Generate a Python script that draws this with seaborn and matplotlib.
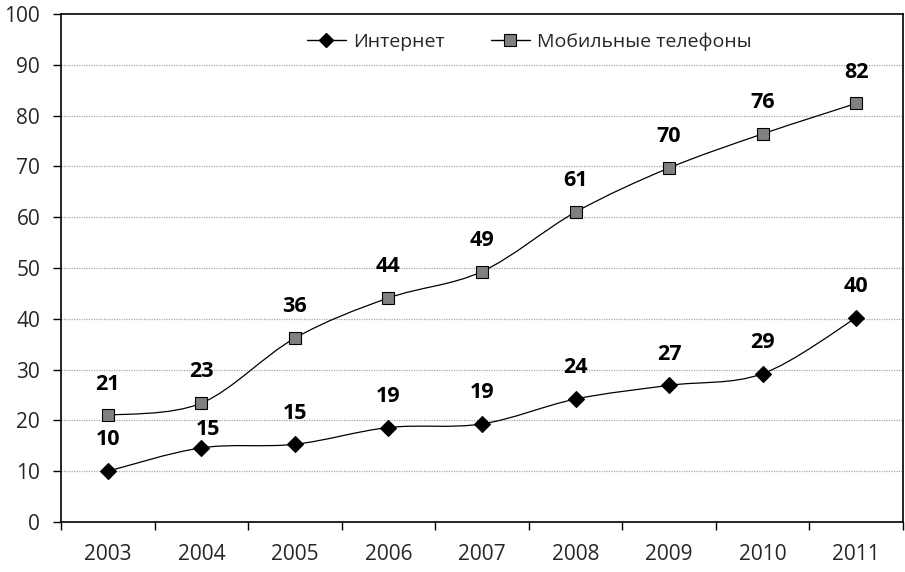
import numpy as np
import pandas as pd
import matplotlib
matplotlib.use("Agg")
import matplotlib.pyplot as plt
from matplotlib.path import Path
from matplotlib.patches import PathPatch
from matplotlib.lines import Line2D
from matplotlib.ticker import FixedLocator, NullFormatter, FixedFormatter
import seaborn as sns

years = ["2003", "2004", "2005", "2006", "2007", "2008", "2009", "2010", "2011"]
internet = [10.0, 14.6, 15.3, 18.6, 19.3, 24.2, 26.9, 29.2, 40.2]
mobile = [21.0, 23.4, 36.2, 44.1, 49.3, 61.0, 69.7, 76.4, 82.4]
internet_labels = ["10", "15", "15", "19", "19", "24", "27", "29", "40"]
mobile_labels = ["21", "23", "36", "44", "49", "61", "70", "76", "82"]
series_names = ["Интернет", "Мобильные телефоны"]
y_ticks = [0, 10, 20, 30, 40, 50, 60, 70, 80, 90, 100]

sns.set_theme(style="white")
plt.rcParams["font.family"] = ["Open Sans", "DejaVu Sans"]

fig = plt.figure(figsize=(9.05, 5.72), dpi=100)
ax = fig.add_axes([61 / 905, 50 / 572, 842 / 905, 508 / 572])

pos = np.arange(len(years))


def smooth_path(xs, ys):
    pts = np.column_stack([xs, ys]).astype(float)
    n = len(pts)
    verts = [pts[0]]
    codes = [Path.MOVETO]
    for i in range(n - 1):
        p0 = pts[i - 1] if i > 0 else pts[i]
        p1 = pts[i]
        p2 = pts[i + 1]
        p3 = pts[i + 2] if i + 2 < n else pts[i + 1]
        c1 = p1 + (p2 - p0) / 6.0
        c2 = p2 - (p3 - p1) / 6.0
        verts += [c1, c2, p2]
        codes += [Path.CURVE4] * 3
    return Path(verts, codes)


styles = [
    dict(values=internet, labels=internet_labels, marker="D", ms=8.5,
         mfc="black", special={1: (5, 13.5)}),
    dict(values=mobile, labels=mobile_labels, marker="s", ms=8,
         mfc="#808080", special={}),
]

for st in styles:
    ax.add_patch(PathPatch(smooth_path(pos, st["values"]), fill=False,
                           edgecolor="black", lw=0.9, zorder=2))
    sns.lineplot(x=pos, y=st["values"], ax=ax, color="black", linewidth=0,
                 marker=st["marker"], markersize=st["ms"],
                 markerfacecolor=st["mfc"], markeredgecolor="black",
                 markeredgewidth=0.8, legend=False, zorder=3)
    for i, (x, y, lab) in enumerate(zip(pos, st["values"], st["labels"])):
        off = st["special"].get(i, (0, 22.5))
        ax.annotate(lab, (x, y), xytext=off, textcoords="offset points",
                    ha="center", va="center", fontsize=15.5, fontweight="bold",
                    color="black", zorder=4)

ax.set_xlim(-0.5, len(years) - 0.5)
ax.set_ylim(0, 100)
ax.set_yticks(y_ticks)
ax.set_yticklabels([str(v) for v in y_ticks])
for v in y_ticks[1:-1]:
    ax.axhline(v, color="#a6a6a6", lw=0.9, ls=(0, (1, 1)), zorder=1)

ax.xaxis.set_major_locator(FixedLocator(np.arange(-0.5, len(years), 1.0)))
ax.xaxis.set_major_formatter(NullFormatter())
ax.xaxis.set_minor_locator(FixedLocator(pos))
ax.xaxis.set_minor_formatter(FixedFormatter(years))
ax.tick_params(axis="x", which="major", direction="out", length=6, width=1,
               color="black", bottom=True)
ax.tick_params(axis="x", which="minor", length=0, pad=16, labelsize=15,
               bottom=True)
ax.tick_params(axis="y", direction="out", length=6, width=1, color="black",
               pad=9, labelsize=15, left=True)

for sp in ax.spines.values():
    sp.set_color("black")
    sp.set_linewidth(1.2)
ax.set_xlabel("")
ax.set_ylabel("")

handles = [
    Line2D([0], [0], color="black", lw=1, marker="D", ms=7,
           mfc="black", mec="black"),
    Line2D([0], [0], color="black", lw=1, marker="s", ms=8,
           mfc="#808080", mec="black", mew=0.8),
]
ax.legend(handles, series_names, loc="center", bbox_to_anchor=(0.556, 0.945),
          ncol=2, frameon=False, fontsize=14, handlelength=2.0,
          handletextpad=0.35, columnspacing=2.4)

fig.savefig("out.png", dpi=100)
